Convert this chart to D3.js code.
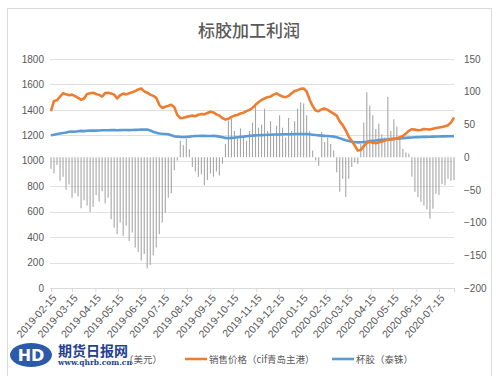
<!DOCTYPE html>
<html>
<head>
<meta charset="utf-8">
<script src="https://cdn.jsdelivr.net/npm/d3@7/dist/d3.min.js"></script>
<style>
  body { margin: 0; background: #fff; }
  svg { display: block; }
</style>
</head>
<body>
<div id="chart"></div>
<script>
// dates: one point every 4 days starting at firstDate
var firstDate = "2019-02-15";
var stepDays = 4;

// 加工利润 (美元), right axis
var profit = [
  -18, -25, -12, -36, -30, -50, -42, -62, -55, -60,
  -78, -66, -74, -84, -76, -58, -68, -52, -71, -62,
  -95, -108, -118, -100, -120, -105, -128, -115, -138, -145,
  -158, -148, -170, -165, -150, -138, -118, -100, -85, -62,
  -55, -20, -5, 25, 18, 28, 12, -15, -22, -30,
  -26, -43, -35, -25, -30, -22, -28, -10, 20, 56,
  59, 40, 30, 44, 30, 25, 40, 53, 82, 45,
  50, 74, 40, 55, 35, 48, 64, 45, 30, 60,
  40, 55, 74, 84, 82, 64, 40, 10, -5, -13,
  39, 23, 30, 20, 10, -23, -53, -33, -61, -33,
  -15, -8, -10, 20, 53, 99, 79, 64, 43, 51,
  35, 30, 92, 40, 58, 47, 30, 13, 7, 5,
  -30, -53, -61, -68, -74, -80, -94, -79, -56, -58,
  -41, -43, -33, -36, -35
];

// 销售价格 (cif青岛主港), left axis
var price = [
  1390, 1470, 1475, 1505, 1530, 1522, 1515, 1520, 1508, 1495,
  1480, 1490, 1525, 1530, 1535, 1525, 1518, 1505, 1532, 1535,
  1528, 1520, 1490, 1515, 1528, 1522, 1530, 1538, 1548, 1560,
  1568, 1545, 1535, 1520, 1510, 1495, 1440, 1415, 1425, 1432,
  1440, 1420, 1360, 1335, 1338, 1345, 1350, 1355, 1350, 1362,
  1368, 1365, 1375, 1385, 1380, 1365, 1355, 1335, 1325, 1330,
  1345, 1355, 1360, 1372, 1378, 1390, 1400, 1415, 1440, 1460,
  1478, 1490, 1500, 1505, 1520, 1530, 1515, 1505, 1500, 1510,
  1530, 1548, 1555, 1565, 1568, 1545, 1480, 1430, 1395, 1390,
  1405, 1410, 1400, 1385, 1370, 1355, 1310, 1280, 1240, 1190,
  1155, 1120, 1080, 1085, 1115, 1140, 1150, 1142, 1138, 1145,
  1150, 1160, 1165, 1168, 1172, 1178, 1185, 1195, 1215, 1235,
  1248, 1245, 1240, 1242, 1250, 1248, 1245, 1252, 1258, 1262,
  1265, 1272, 1280, 1300, 1340
];

// 杯胶 (泰铢), left axis
var cupLump = [
  1200, 1205, 1210, 1215, 1218, 1222, 1228, 1230, 1228, 1232,
  1235, 1233, 1236, 1237, 1238, 1237, 1238, 1240, 1240, 1240,
  1241, 1241, 1240, 1241, 1242, 1242, 1241, 1242, 1243, 1244,
  1245, 1246, 1245, 1238, 1228, 1220, 1215, 1212, 1210, 1208,
  1200, 1192, 1190, 1188, 1187, 1188, 1190, 1193, 1195, 1195,
  1196, 1196, 1195, 1195, 1196, 1194, 1190, 1185, 1180, 1178,
  1180, 1182, 1185, 1188, 1190, 1193, 1196, 1198, 1200, 1201,
  1202, 1203, 1204, 1205, 1206, 1207, 1207, 1208, 1208, 1209,
  1209, 1210, 1210, 1211, 1211, 1210, 1208, 1205, 1202, 1200,
  1198, 1196, 1195, 1193, 1190, 1185, 1178, 1170, 1162, 1155,
  1150, 1147, 1145, 1146, 1148, 1150, 1155, 1158, 1160, 1163,
  1165, 1167, 1168, 1170, 1172, 1174, 1176, 1178, 1180, 1182,
  1183, 1185, 1186, 1187, 1188, 1188, 1189, 1190, 1191, 1191,
  1192, 1192, 1193, 1193, 1194
];

var xTickLabels = [
  "2019-02-15", "2019-03-15", "2019-04-15", "2019-05-15", "2019-06-15", "2019-07-15",
  "2019-08-15", "2019-09-15", "2019-10-15", "2019-11-15", "2019-12-15", "2020-01-15",
  "2020-02-15", "2020-03-15", "2020-04-15", "2020-05-15", "2020-06-15", "2020-07-15"
];
var leftTicks = [0, 200, 400, 600, 800, 1000, 1200, 1400, 1600, 1800];
var rightTicks = [-200, -150, -100, -50, 0, 50, 100, 150];

var seriesNames = ["加工利润（美元）", "销售价格（cif青岛主港）", "杯胶（泰铢）"];
var seriesColors = ["#a6a6a6", "#ed7d31", "#5b9bd5"];

var W = 500, H = 376;
var parse = d3.utcParse("%Y-%m-%d");
var start = parse(firstDate);
var dates = profit.map(function(d, i) { return d3.utcDay.offset(start, i * stepDays); });

var svg = d3.select("#chart").append("svg")
    .attr("width", W)
    .attr("height", H)
    .style("font-family", "'Liberation Sans', Arial, sans-serif");

// frame
svg.append("rect")
    .attr("x", 7.5).attr("y", 8.5)
    .attr("width", 484).attr("height", 372)
    .attr("fill", "#fff")
    .attr("stroke", "#d9d9d9");

var x = d3.scaleUtc()
    .domain([dates[0], dates[dates.length - 1]])
    .range([51, 454]);
var yL = d3.scaleLinear().domain([0, 1800]).range([288, 59]);
var yR = d3.scaleLinear().domain([-200, 150]).range([288, 59]);

// title
svg.append("text")
    .attr("x", 249).attr("y", 37)
    .attr("text-anchor", "middle")
    .attr("fill", "#595959")
    .style("font-family", "'Noto Sans CJK SC', sans-serif")
    .style("font-size", "17px")
    .style("font-weight", "500")
    .text("标胶加工利润");

// gridlines
svg.append("g").selectAll("line")
    .data(leftTicks)
    .enter().append("line")
    .attr("x1", 50).attr("x2", 454)
    .attr("y1", function(d) { return Math.round(yL(d)) + 0.5; })
    .attr("y2", function(d) { return Math.round(yL(d)) + 0.5; })
    .attr("stroke", "#e0e0e0")
    .attr("stroke-width", 1);

// left axis
var leftAxis = svg.append("g")
    .attr("transform", "translate(50,0)")
    .call(d3.axisLeft(yL).tickValues(leftTicks).tickSize(0).tickPadding(6)
        .tickFormat(d3.format("d")));
leftAxis.select(".domain").remove();
leftAxis.selectAll("text")
    .attr("fill", "#595959")
    .style("font-size", "10px");

// right axis
var rightAxis = svg.append("g")
    .attr("transform", "translate(456,0)")
    .call(d3.axisRight(yR).tickValues(rightTicks).tickSize(0).tickPadding(8)
        .tickFormat(d3.format("d")));
rightAxis.select(".domain").remove();
rightAxis.selectAll("text")
    .attr("fill", "#595959")
    .style("font-size", "10px");

// profit bars (thin columns from zero on right axis)
svg.append("g").selectAll("line")
    .data(profit)
    .enter().append("line")
    .attr("x1", function(d, i) { return x(dates[i]); })
    .attr("x2", function(d, i) { return x(dates[i]); })
    .attr("y1", yR(0))
    .attr("y2", function(d) { return yR(d); })
    .attr("stroke", "#a6a6a6")
    .attr("stroke-width", 1.1);

// x axis
var xTicks = xTickLabels.map(function(s) { return parse(s); });
var xAxis = svg.append("g")
    .attr("transform", "translate(0,288)")
    .call(d3.axisBottom(x).tickValues(xTicks).tickSize(4)
        .tickFormat(d3.utcFormat("%Y-%m-%d")));
xAxis.select(".domain")
    .attr("stroke", "#d9d9d9");
xAxis.selectAll(".tick line").attr("stroke", "#d9d9d9");
xAxis.selectAll("text")
    .attr("fill", "#595959")
    .style("font-size", "10.5px")
    .attr("text-anchor", "end")
    .attr("dy", "0.35em")
    .attr("transform", "translate(3,8) rotate(-48)")
    .attr("y", 0)
    .attr("x", 0);

// lines
var lineL = d3.line()
    .x(function(d, i) { return x(dates[i]); })
    .y(function(d) { return yL(d); });

svg.append("path")
    .attr("d", lineL(cupLump))
    .attr("fill", "none")
    .attr("stroke", seriesColors[2])
    .attr("stroke-width", 2.6)
    .attr("stroke-linejoin", "round");

svg.append("path")
    .attr("d", lineL(price))
    .attr("fill", "none")
    .attr("stroke", seriesColors[1])
    .attr("stroke-width", 2.6)
    .attr("stroke-linejoin", "round");

// legend
var legendPos = [62, 185, 332];
var legend = svg.append("g")
    .style("font-family", "'Noto Sans CJK SC', sans-serif")
    .style("font-size", "9.5px");
seriesNames.forEach(function(name, i) {
    legend.append("line")
        .attr("x1", legendPos[i]).attr("x2", legendPos[i] + 22)
        .attr("y1", 359).attr("y2", 359)
        .attr("stroke", seriesColors[i])
        .attr("stroke-width", 2.6);
    legend.append("text")
        .attr("x", legendPos[i] + 24).attr("y", 362.5)
        .attr("fill", "#595959")
        .text(name);
});

// watermark (期货日报网) sitting over the first legend entry
var wm = svg.append("g");
wm.append("rect")
    .attr("x", 8).attr("y", 340)
    .attr("width", 116).attr("height", 35)
    .attr("fill", "#fff")
    .attr("fill-opacity", 0.93);
wm.append("ellipse")
    .attr("cx", 31).attr("cy", 355)
    .attr("rx", 21).attr("ry", 12)
    .attr("fill", "#2c5aa8");
wm.append("text")
    .attr("x", 31).attr("y", 361)
    .attr("text-anchor", "middle")
    .attr("fill", "#fff")
    .style("font-family", "'DejaVu Sans', sans-serif")
    .style("font-weight", "bold")
    .style("font-size", "16px")
    .text("HD");
wm.append("text")
    .attr("x", 58).attr("y", 356)
    .attr("fill", "#253f92")
    .style("font-family", "'Noto Sans CJK SC', sans-serif")
    .style("font-weight", "bold")
    .style("font-size", "14px")
    .text("期货日报网");
wm.append("text")
    .attr("x", 58).attr("y", 364.5)
    .attr("fill", "#253f92")
    .style("font-family", "'DejaVu Serif', serif")
    .style("font-weight", "bold")
    .style("font-size", "7.5px")
    .text("www.qhrb.com.cn");
</script>
</body>
</html>
